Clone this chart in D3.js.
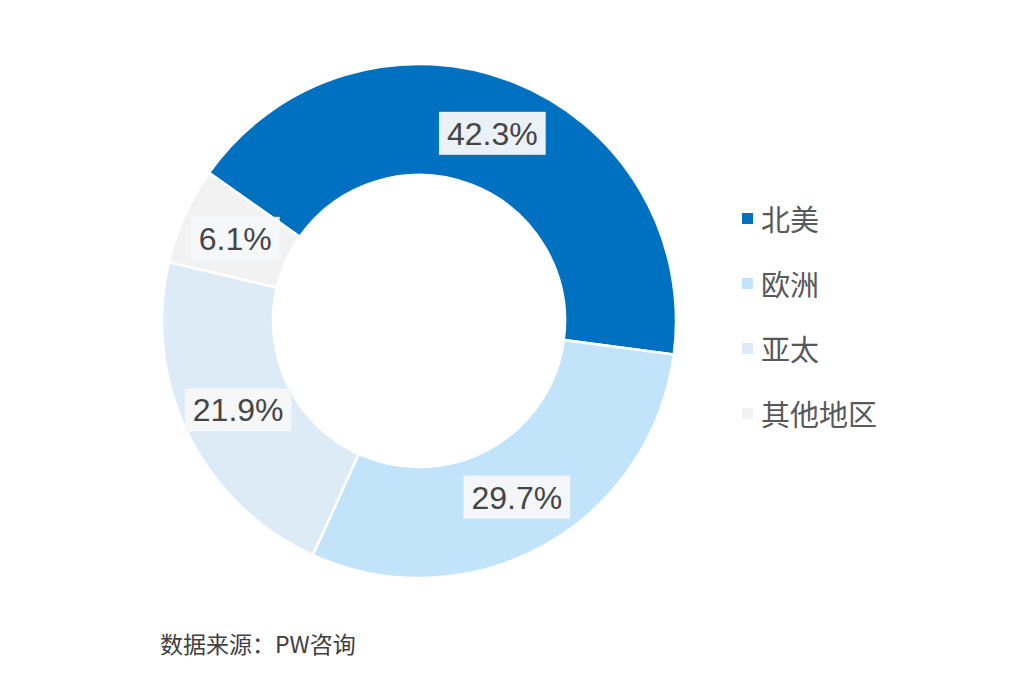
<!DOCTYPE html>
<html><head><meta charset="utf-8">
<script src="https://cdn.jsdelivr.net/npm/d3@7"></script>
<style>body{margin:0;background:#fff}</style>
</head><body>
<svg id="c" width="1009" height="673"></svg>
<script>
const categories = ["北美","欧洲","亚太","其他地区"];
const values = [42.3, 29.7, 21.9, 6.1];
const colors = ["#0070C0","#C2E4FB","#DDEBF7","#F2F2F2"];
const sourceText = "数据来源：PW咨询";

const svg = d3.select("#c");
const cx = 419, cy = 321, rOuter = 257, rInner = 146;
const startA = -54.8 * Math.PI / 180;
const pie = d3.pie().sort(null).value(d => d).startAngle(startA).endAngle(startA + 2*Math.PI);
const arcs = pie(values);
const arc = d3.arc().innerRadius(rInner).outerRadius(rOuter);
const g = svg.append("g").attr("transform", `translate(${cx},${cy})`);
g.selectAll("path").data(arcs).join("path")
  .attr("d", arc).attr("fill", (d,i) => colors[i])
  .attr("stroke", "#fff").attr("stroke-width", 2.5);

const lab = g.selectAll("g.lab").data(arcs).join("g").attr("class","lab")
  .attr("transform", d => `translate(${arc.centroid(d)})`);
lab.each(function(d){
  const s = d3.select(this);
  const t = s.append("text").text(d.data.toFixed(1) + "%")
    .attr("text-anchor","middle").attr("dy","0.36em")
    .attr("font-family","'Liberation Sans', Arial, sans-serif")
    .attr("font-size", 32).attr("fill","#454545");
  const b = t.node().getBBox();
  s.insert("rect","text").attr("x", b.x - 8).attr("y", -21.5)
    .attr("width", b.width + 16).attr("height", 43)
    .attr("fill","#F6F7F9").attr("opacity",0.96);
});

const leg = svg.append("g").attr("transform","translate(742,0)");
const ly = d3.scalePoint().domain(categories).range([221, 416]);
categories.forEach((c,i) => {
  leg.append("rect").attr("x",0).attr("y", ly(c) - 8).attr("width",11).attr("height",11)
    .attr("fill", colors[i]);
  leg.append("text").attr("x", 19).attr("y", ly(c)).attr("dy","0.36em")
    .text(c).attr("font-family","'Noto Sans CJK SC', sans-serif")
    .attr("font-size", 29).attr("fill","#595959");
});

svg.append("text").attr("x",160).attr("y",645).attr("dy","0.36em")
  .text(sourceText).attr("font-family","'Noto Sans CJK SC', sans-serif")
  .attr("font-size",23).attr("fill","#404040");
</script>
</body></html>
